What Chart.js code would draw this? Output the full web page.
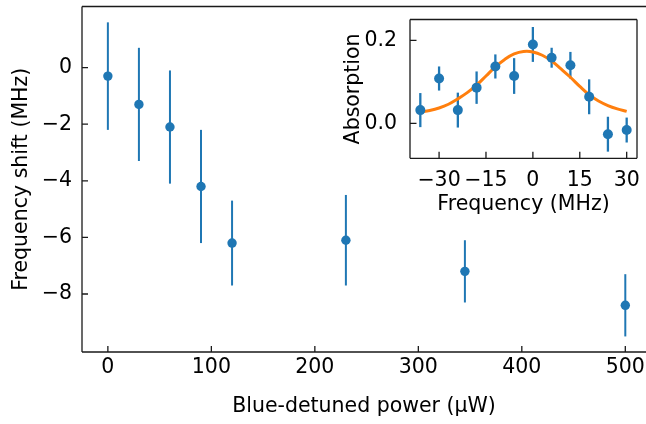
<!DOCTYPE html>
<html>
<head>
<meta charset="utf-8">
<script src="https://cdn.jsdelivr.net/npm/chart.js@4.4.1/dist/chart.umd.min.js"></script>
<style>
  html, body { margin: 0; padding: 0; background: #fff; overflow: hidden; }
  #wrap { position: relative; width: 646px; height: 424px; }
  #main { position: absolute; left: 0; top: 0; }
  #inset { position: absolute; left: 330px; top: 0; }
</style>
</head>
<body>
<div id="wrap">
  <canvas id="main" width="646" height="424"></canvas>
  <canvas id="inset" width="316" height="220"></canvas>
</div>
<script>
// main panel: shift vs blue-detuned power
const power = [0, 30, 60, 90, 120, 230, 345, 500]
const shift = [-0.3, -1.3, -2.1, -4.2, -6.2, -6.1, -7.2, -8.4]
const shiftErr = [1.9, 2.0, 2.0, 2.0, 1.5, 1.6, 1.1, 1.1]
const powerTicks = [0, 100, 200, 300, 400, 500]
const shiftTicks = [0, -2, -4, -6, -8]

// inset: absorption spectrum + fit
const freq = [-36, -30, -24, -18, -12, -6, 0, 6, 12, 18, 24, 30]
const absorb = [0.032, 0.108, 0.032, 0.086, 0.137, 0.114, 0.190, 0.158, 0.140, 0.064, -0.026, -0.016]
const absorbErr = [0.041, 0.029, 0.042, 0.039, 0.029, 0.043, 0.042, 0.024, 0.032, 0.042, 0.042, 0.030]
const fitFreq = [-36, -33, -30, -27, -24, -21, -18, -15, -12, -9, -6, -3, 0, 3, 6, 9, 12, 15, 18, 21, 24, 27, 30]
const fitAbs = [0.027, 0.031, 0.037, 0.046, 0.059, 0.074, 0.092, 0.114, 0.136, 0.154, 0.167, 0.173, 0.172, 0.164, 0.150, 0.131, 0.111, 0.089, 0.069, 0.054, 0.043, 0.035, 0.029]
const freqTicks = [-30, -15, 0, 15, 30]
const absorbTicks = [0.0, 0.2]

const blue = '#1f77b4'
const orange = '#ff7f0e'
const ink = '#1a1a1a'

Chart.defaults.font.family = 'DejaVu Sans'
Chart.defaults.font.size = 20.5
Chart.defaults.color = '#000'

function minus(v) {
  return v < 0 ? '\u2212' + Math.abs(v) : String(v)
}

// keep the plot box where we put it, no extra room for labels
function noPad(s) {
  s.paddingTop = 0
  s.paddingBottom = 0
  s.paddingLeft = 0
  s.paddingRight = 0
}

// white face, error bars, spines and inward ticks
const frame = {
  id: 'frame',
  beforeDraw(chart) {
    const a = chart.chartArea, c = chart.ctx
    c.save()
    c.fillStyle = '#fff'
    c.fillRect(a.left, a.top, a.right - a.left, a.bottom - a.top)
    c.restore()
  },
  beforeDatasetsDraw(chart) {
    const c = chart.ctx, ys = chart.scales.y
    chart.data.datasets.forEach(function (ds, k) {
      if (!ds.errors) return
      const pts = chart.getDatasetMeta(k).data
      c.save()
      c.strokeStyle = ds.backgroundColor
      c.lineWidth = ds.errWidth
      ds.data.forEach(function (p, i) {
        const px = pts[i].x
        c.beginPath()
        c.moveTo(px, ys.getPixelForValue(p.y - ds.errors[i]))
        c.lineTo(px, ys.getPixelForValue(p.y + ds.errors[i]))
        c.stroke()
      })
      c.restore()
    })
  },
  afterDraw(chart, args, o) {
    const a = chart.chartArea, c = chart.ctx
    c.save()
    c.strokeStyle = ink
    c.lineWidth = 1.3
    c.beginPath()
    if (o.sides.includes('left')) { c.moveTo(a.left, a.top); c.lineTo(a.left, a.bottom) }
    if (o.sides.includes('bottom')) { c.moveTo(a.left, a.bottom); c.lineTo(a.right, a.bottom) }
    if (o.sides.includes('top')) { c.moveTo(a.left, a.top); c.lineTo(a.right, a.top) }
    if (o.sides.includes('right')) { c.moveTo(a.right, a.top); c.lineTo(a.right, a.bottom) }
    c.stroke()
    c.beginPath()
    chart.scales.x.ticks.forEach(function (t, i) {
      const px = chart.scales.x.getPixelForTick(i)
      c.moveTo(px, a.bottom); c.lineTo(px, a.bottom - o.tick)
    })
    chart.scales.y.ticks.forEach(function (t, i) {
      const py = chart.scales.y.getPixelForTick(i)
      c.moveTo(a.left, py); c.lineTo(a.left + o.tick, py)
    })
    c.stroke()
    c.restore()
  }
}

new Chart(document.getElementById('main'), {
  type: 'scatter',
  data: {
    datasets: [{
      data: power.map((p, i) => ({ x: p, y: shift[i] })),
      errors: shiftErr,
      errWidth: 2,
      backgroundColor: blue,
      borderWidth: 0,
      pointRadius: 4.7
    }]
  },
  options: {
    responsive: false,
    animation: false,
    devicePixelRatio: 1,
    layout: { autoPadding: false, padding: { top: 6.5, right: 0, left: 0, bottom: 0 } },
    plugins: {
      legend: { display: false },
      tooltip: { enabled: false },
      frame: { sides: ['left', 'bottom', 'top'], tick: 6 }
    },
    scales: {
      x: {
        min: -25, max: 520,
        grid: { display: false, drawTicks: false },
        border: { display: false },
        afterBuildTicks: s => { s.ticks = powerTicks.map(v => ({ value: v })) },
        afterFit: s => { s.height = 72; noPad(s) },
        ticks: { padding: 3, maxRotation: 0, callback: v => minus(v) },
        title: { display: true, text: 'Blue-detuned power (\u00b5W)', padding: { top: 0, bottom: 5 } }
      },
      y: {
        min: -10.05, max: 2.16,
        grid: { display: false, drawTicks: false },
        border: { display: false },
        afterBuildTicks: s => { s.ticks = shiftTicks.map(v => ({ value: v })) },
        afterFit: s => { s.width = 82; noPad(s) },
        ticks: { padding: 10, callback: v => minus(v) },
        title: { display: true, text: 'Frequency shift (MHz)', padding: { top: 9.4, bottom: 0 } }
      }
    }
  },
  plugins: [frame]
})

new Chart(document.getElementById('inset'), {
  type: 'scatter',
  data: {
    datasets: [{
      data: freq.map((f, i) => ({ x: f, y: absorb[i] })),
      errors: absorbErr,
      errWidth: 2.3,
      backgroundColor: blue,
      borderWidth: 0,
      pointRadius: 5
    }, {
      data: fitFreq.map((f, i) => ({ x: f, y: fitAbs[i] })),
      showLine: true,
      borderColor: orange,
      backgroundColor: orange,
      borderWidth: 3,
      pointRadius: 0,
      tension: 0.4
    }]
  },
  options: {
    responsive: false,
    animation: false,
    devicePixelRatio: 1,
    layout: { autoPadding: false, padding: { top: 19.5, right: 9, left: 0, bottom: 0 } },
    plugins: {
      legend: { display: false },
      tooltip: { enabled: false },
      frame: { sides: ['left', 'bottom', 'top', 'right'], tick: 6.5 }
    },
    scales: {
      x: {
        min: -39.3, max: 33.3,
        grid: { display: false, drawTicks: false },
        border: { display: false },
        afterBuildTicks: s => { s.ticks = freqTicks.map(v => ({ value: v })) },
        afterFit: s => { s.height = 61.7; noPad(s) },
        ticks: { padding: 10, maxRotation: 0, callback: v => minus(v) },
        title: { display: true, text: 'Frequency (MHz)', padding: { top: 0, bottom: 3.5 } }
      },
      y: {
        min: -0.084, max: 0.25,
        grid: { display: false, drawTicks: false },
        border: { display: false },
        afterBuildTicks: s => { s.ticks = absorbTicks.map(v => ({ value: v })) },
        afterFit: s => { s.width = 80; noPad(s) },
        ticks: { padding: 13, callback: v => v.toFixed(1) },
        title: { display: true, text: 'Absorption', padding: { top: 11.2, bottom: 0 } }
      }
    }
  },
  plugins: [frame]
})
</script>
</body>
</html>
